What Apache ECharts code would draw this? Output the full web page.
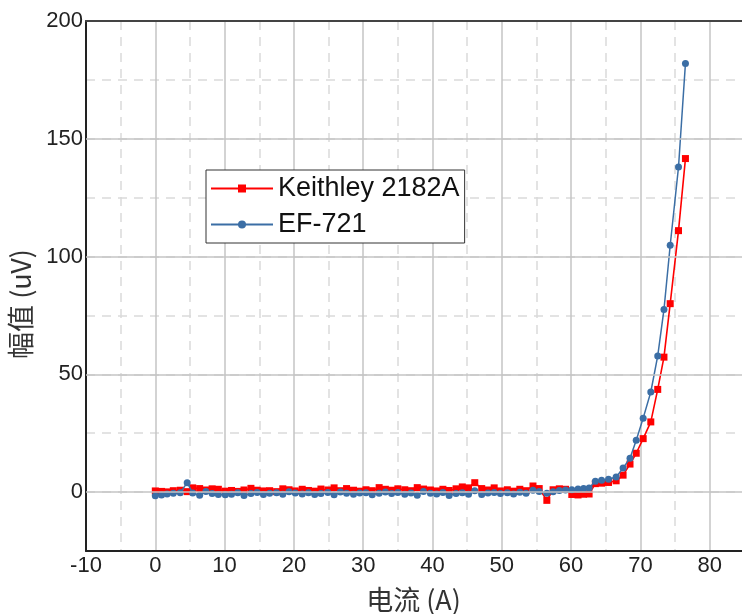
<!DOCTYPE html>
<html>
<head>
<meta charset="utf-8">
<script src="https://cdn.jsdelivr.net/npm/echarts@6/dist/echarts.min.js"></script>
<style>
  html, body { margin: 0; padding: 0; background: #fff; overflow: hidden; }
  #chart { width: 742px; height: 614px; }
</style>
</head>
<body>
<div id="chart"></div>
<script>
// 电流 (A)
const current = [
  0, 0.9, 1.7, 2.6, 3.6, 4.6, 5.4, 6.4, 7.3, 8.2,
  9.1, 10.1, 11.0, 11.9, 12.8, 13.8, 14.7, 15.6, 16.5, 17.5,
  18.4, 19.3, 20.2, 21.2, 22.1, 23.0, 23.9, 24.9, 25.8, 26.7,
  27.6, 28.6, 29.5, 30.4, 31.3, 32.3, 33.2, 34.1, 35.0, 36.0,
  36.9, 37.8, 38.7, 39.7, 40.6, 41.5, 42.4, 43.4, 44.3, 45.2,
  46.1, 47.1, 48.0, 48.9, 49.8, 50.8, 51.7, 52.6, 53.5, 54.5,
  55.4, 56.5, 57.4, 58.3, 59.2, 60.1, 61.0, 61.8, 62.6, 63.5,
  64.4, 65.4, 66.5, 67.5, 68.5, 69.4, 70.4, 71.5, 72.5, 73.4,
  74.3, 75.5, 76.5
]
// 幅值 (uV)
const keithley = [
  0.5, 0.3, 0.1, 0.6, 0.8, 0.2, 1.8, 1.5, 0.9, 1.4,
  1.2, 0.4, 0.7, 0.3, 0.9, 1.6, 0.8, 0.5, 0.6, 0.2,
  1.4, 1.0, 0.5, 1.2, 0.7, 0.4, 1.3, 0.9, 1.8, 0.6,
  1.5, 0.8, 0.4, 1.0, 0.6, 1.9, 1.2, 0.8, 1.4, 1.0,
  0.6, 1.9, 1.3, 0.9, 0.5, 1.2, 0.7, 1.4, 2.2, 1.8,
  4.0, 1.5, 0.9, 1.8, 0.5, 1.0, 0.4, 1.2, 0.6, 2.6,
  1.5, -3.5, 1.0, 1.4, 1.2, -1.0, -1.2, -0.9, -0.8, 3.6,
  3.8, 4.1, 4.8, 7.2, 11.9, 16.5, 22.7, 29.8, 43.6, 57.3,
  80, 111, 141.6
]
const ef721 = [
  -1.5, -1.2, -0.8, -0.5, -0.3, 4.0, -0.4, -1.3, 0.3, -0.6,
  -1.0, -1.1, -0.9, -0.3, -1.4, -0.6, -0.2, -1.0, -0.5, -0.3,
  -0.9, 0.2, -0.4, -0.8, -0.3, -1.0, -0.6, -0.2, -1.1, 0.0,
  -0.5, -0.9, -0.4, -0.3, -1.1, -0.5, 0.1, -0.6, -0.2, -0.9,
  -0.4, -1.3, 0.3, -0.5, -0.8, -0.2, -1.4, -0.6, -0.3, -0.9,
  0.6, -1.0, -0.4, -0.2, -0.6, -0.3, -0.8, -0.1, -0.5, 0.8,
  0.3, -0.5, 0.2, 0.7, 0.9, 1.0, 1.3, 1.5, 1.7, 4.6,
  5.0, 5.5, 6.4, 10.2, 14.4, 22.0, 31.4, 42.5, 57.8, 77.5,
  104.8, 138, 182
]
// 主刻度（实线）
const yMajor = [0, 50, 100, 150]

const chart = echarts.init(document.getElementById('chart'), null, { renderer: 'canvas' })

const font = 'Liberation Sans, Arial, sans-serif'
const cjkFont = 'Noto Sans CJK SC, sans-serif'
const toPairs = (ys) => current.map((x, i) => [x, ys[i]])

const option = {
  animation: false,
  textStyle: { fontFamily: font },
  grid: {
    left: 86,
    top: 21,
    width: 693,
    height: 530,
    outerBoundsMode: 'none',
    containLabel: false
  },
  legend: {
    orient: 'vertical',
    left: 206,
    top: 170,
    backgroundColor: '#fff',
    borderColor: '#333',
    borderWidth: 1,
    padding: [5, 5, 5, 4],
    itemWidth: 62,
    itemHeight: 10,
    itemGap: 9,
    textStyle: { fontSize: 27, color: '#111', fontFamily: font },
    data: ['Keithley 2182A', 'EF-721']
  },
  xAxis: [
    {
      type: 'value',
      position: 'bottom',
      min: -10,
      max: 90,
      interval: 10,
      name: '电流 (A)',
      nameLocation: 'middle',
      nameGap: 35,
      nameTextStyle: { fontSize: 27, color: '#333', padding: [0, 38, 0, 0], fontFamily: cjkFont },
      axisLine: { onZero: false, lineStyle: { color: '#222', width: 2 } },
      axisTick: { show: false },
      axisLabel: { fontSize: 22, color: '#222', margin: 4 },
      splitLine: { lineStyle: { color: '#c4c4c4', width: 1.5 } },
      minorTick: { show: false, splitNumber: 2 },
      minorSplitLine: { show: true, lineStyle: { color: '#dadada', width: 1.5, type: [9, 7] } }
    },
    {
      // 顶部边框
      type: 'value',
      position: 'top',
      min: -10,
      max: 90,
      interval: 10,
      axisLine: { onZero: false, lineStyle: { color: '#444', width: 2 } },
      axisTick: { show: false },
      axisLabel: { show: false },
      splitLine: { show: false }
    }
  ],
  yAxis: {
    type: 'value',
    min: -25,
    max: 200,
    interval: 25,
    name: '幅值 (uV)',
    nameLocation: 'middle',
    nameGap: 52,
    nameTextStyle: { fontSize: 27, color: '#333', padding: [0, 36, 0, 0], fontFamily: cjkFont },
    axisLine: { onZero: false, lineStyle: { color: '#222', width: 2 } },
    axisTick: { show: false },
    axisLabel: {
      fontSize: 22,
      color: '#222',
      margin: 3,
      formatter: function (value) {
        return value % 50 === 0 ? String(value) : ''
      }
    },
    splitLine: { lineStyle: { color: '#dadada', width: 1.5, type: [9, 7] } }
  },
  series: [
    {
      type: 'line',
      name: 'grid-major',
      data: [],
      z: 1,
      silent: true,
      markLine: {
        silent: true,
        symbol: 'none',
        label: { show: false },
        animation: false,
        lineStyle: { color: '#c4c4c4', width: 1.5, type: 'solid' },
        data: yMajor.map(v => ({ yAxis: v }))
      }
    },
    {
      name: 'Keithley 2182A',
      type: 'line',
      data: toPairs(keithley),
      symbol: 'rect',
      symbolSize: 7,
      color: '#ff0000',
      lineStyle: { width: 1.6 },
      z: 3
    },
    {
      name: 'EF-721',
      type: 'line',
      data: toPairs(ef721),
      symbol: 'circle',
      symbolSize: 7,
      color: '#3b6ea5',
      lineStyle: { width: 1.5 },
      z: 4
    }
  ]
}

chart.setOption(option)
</script>
</body>
</html>
